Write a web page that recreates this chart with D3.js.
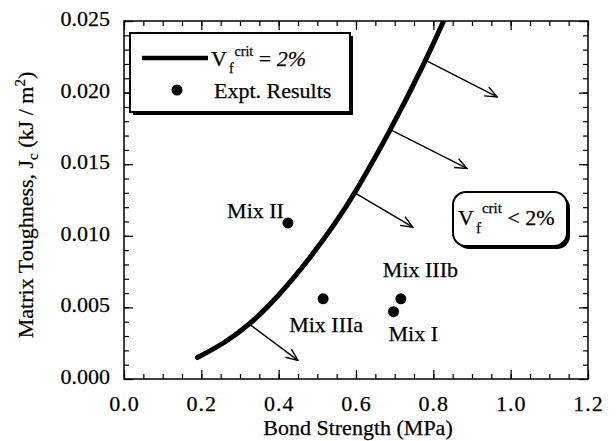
<!DOCTYPE html>
<html>
<head>
<meta charset="utf-8">
<script src="https://cdn.jsdelivr.net/npm/d3@7"></script>
<style>
  html, body { margin: 0; padding: 0; background: #fff; }
  svg { display: block; }
  text { font-family: "Liberation Serif", "Times New Roman", serif; fill: #000; stroke: #000; stroke-width: 0.25; }
</style>
</head>
<body>
<svg id="chart" width="616" height="441"></svg>
<script>
// ---- data ----
const xTicks = [0.0, 0.2, 0.4, 0.6, 0.8, 1.0, 1.2];
const yTicks = [0.000, 0.005, 0.010, 0.015, 0.020, 0.025];
const curveX = [0.19, 0.26, 0.33, 0.40, 0.48, 0.55, 0.60, 0.69, 0.78, 0.83];
const curveY = [0.0015, 0.0025, 0.0039, 0.0058, 0.0084, 0.0110, 0.0131, 0.0174, 0.0222, 0.0252];
const arrowFromX = [0.326, 0.597, 0.690, 0.784];
const arrowFromY = [0.0038, 0.0130, 0.0174, 0.0222];
const arrowToX = [0.450, 0.747, 0.887, 0.965];
const arrowToY = [0.0013, 0.0106, 0.0147, 0.0197];
const mixNames = ["Mix II", "Mix IIIa", "Mix I", "Mix IIIb"];
const mixX = [0.424, 0.515, 0.697, 0.716];
const mixY = [0.0109, 0.0056, 0.0047, 0.0056];

// ---- layout ----
const L = 124, R = 588, T = 21, B = 379;
const FS = 22;
const svg = d3.select("#chart");
svg.append("rect").attr("width", 616).attr("height", 441).attr("fill", "#fff");

const x = d3.scaleLinear().domain([0, 1.2]).range([L, R]);
const y = d3.scaleLinear().domain([0, 0.025]).range([B, T]);

const minorX = d3.range(0, 1.2001, 0.05);
const minorY = d3.range(0, 0.02501, 0.001);

function styleAxis(g) {
  g.select(".domain").remove();
  g.selectAll(".tick line").attr("stroke", "#000").attr("stroke-width", 1.2);
}

// minor ticks
svg.append("g").attr("transform", `translate(0,${B})`)
  .call(d3.axisBottom(x).tickValues(minorX).tickSize(-5).tickFormat(""))
  .call(styleAxis);
svg.append("g").attr("transform", `translate(0,${T})`)
  .call(d3.axisTop(x).tickValues(minorX).tickSize(-5).tickFormat(""))
  .call(styleAxis);
svg.append("g").attr("transform", `translate(${L},0)`)
  .call(d3.axisLeft(y).tickValues(minorY).tickSize(-5).tickFormat(""))
  .call(styleAxis);
svg.append("g").attr("transform", `translate(${R},0)`)
  .call(d3.axisRight(y).tickValues(minorY).tickSize(-5).tickFormat(""))
  .call(styleAxis);

// major ticks
const gx = svg.append("g").attr("transform", `translate(0,${B})`)
  .call(d3.axisBottom(x).tickValues(xTicks).tickSize(-9).tickPadding(16).tickFormat(d3.format(".1f")))
  .call(styleAxis);
gx.selectAll(".tick text").attr("font-size", FS).attr("font-family", "Liberation Serif")
  .attr("fill", "#000").attr("letter-spacing", 1);
svg.append("g").attr("transform", `translate(0,${T})`)
  .call(d3.axisTop(x).tickValues(xTicks).tickSize(-9).tickFormat(""))
  .call(styleAxis);
const gy = svg.append("g").attr("transform", `translate(${L},0)`)
  .call(d3.axisLeft(y).tickValues(yTicks).tickSize(-9).tickPadding(14).tickFormat(d3.format(".3f")))
  .call(styleAxis);
gy.selectAll(".tick text").attr("font-size", FS).attr("font-family", "Liberation Serif")
  .attr("fill", "#000").attr("dy", "0.2em");
svg.append("g").attr("transform", `translate(${R},0)`)
  .call(d3.axisRight(y).tickValues(yTicks).tickSize(-9).tickFormat(""))
  .call(styleAxis);

// frame
svg.append("rect").attr("x", L).attr("y", T).attr("width", R - L).attr("height", B - T)
  .attr("fill", "none").attr("stroke", "#000").attr("stroke-width", 1.5);

// axis titles
svg.append("text").attr("x", x(0.6) + 2).attr("y", 435).attr("text-anchor", "middle")
  .attr("font-size", FS).text("Bond Strength (MPa)");
const yt = svg.append("text").attr("transform", "translate(33,205) rotate(-90)")
  .attr("text-anchor", "middle").attr("font-size", FS);
yt.append("tspan").text("Matrix Toughness, J");
yt.append("tspan").attr("font-size", 15).attr("dy", 5).text("c");
yt.append("tspan").attr("dy", -5).text(" (kJ / m");
yt.append("tspan").attr("font-size", 15).attr("dy", -8).text("2");
yt.append("tspan").attr("dy", 8).text(")");

// clip
svg.append("clipPath").attr("id", "clip").append("rect")
  .attr("x", L).attr("y", T).attr("width", R - L).attr("height", B - T);

// curve
const curvePts = curveX.map((v, i) => [v, curveY[i]]);
svg.append("path").attr("clip-path", "url(#clip)")
  .attr("d", d3.line().x(d => x(d[0])).y(d => y(d[1])).curve(d3.curveBasis)(curvePts))
  .attr("fill", "none").attr("stroke", "#000").attr("stroke-width", 5).attr("stroke-linecap", "round");

// arrows
svg.append("defs").append("marker").attr("id", "ah")
  .attr("viewBox", "0 0 14 14").attr("refX", 13).attr("refY", 7)
  .attr("markerWidth", 14).attr("markerHeight", 14).attr("markerUnits", "userSpaceOnUse")
  .attr("orient", "auto")
  .append("path").attr("d", "M1,2 L13,7 L1,12").attr("fill", "none").attr("stroke", "#000").attr("stroke-width", 1.4);
arrowFromX.forEach((v, i) => {
  svg.append("line")
    .attr("x1", x(v)).attr("y1", y(arrowFromY[i]))
    .attr("x2", x(arrowToX[i])).attr("y2", y(arrowToY[i]))
    .attr("stroke", "#000").attr("stroke-width", 1.4).attr("marker-end", "url(#ah)");
});

// experimental points
const labelOff = [
  { dx: -4, dy: -5, anchor: "end" },
  { dx: 3, dy: 33, anchor: "middle" },
  { dx: -5, dy: 29, anchor: "start" },
  { dx: -18, dy: -22, anchor: "start" }
];
mixNames.forEach((n, i) => {
  const cx = x(mixX[i]), cy = y(mixY[i]);
  svg.append("circle").attr("cx", cx).attr("cy", cy).attr("r", 5.5).attr("fill", "#000");
  svg.append("text").attr("x", cx + labelOff[i].dx).attr("y", cy + labelOff[i].dy)
    .attr("text-anchor", labelOff[i].anchor).attr("font-size", FS).text(n);
});

// legend box
const lg = svg.append("g");
lg.append("rect").attr("x", 133).attr("y", 36).attr("width", 220).attr("height", 79).attr("fill", "#000");
lg.append("rect").attr("x", 130).attr("y", 33).attr("width", 220).attr("height", 79)
  .attr("fill", "#fff").attr("stroke", "#000").attr("stroke-width", 2);
lg.append("line").attr("x1", 142).attr("x2", 208).attr("y1", 58).attr("y2", 58)
  .attr("stroke", "#000").attr("stroke-width", 4.5);
const t1 = lg.append("text").attr("x", 211).attr("y", 66).attr("font-size", FS);
t1.append("tspan").text("V");
t1.append("tspan").attr("font-size", 14).attr("dy", 7).attr("dx", 2).text("f");
t1.append("tspan").attr("font-size", 14).attr("dy", -17).attr("dx", 1).text("crit");
t1.append("tspan").attr("dy", 10).text(" = ");
t1.append("tspan").attr("font-style", "italic").text("2%");
lg.append("circle").attr("cx", 177).attr("cy", 90).attr("r", 5.5).attr("fill", "#000");
lg.append("text").attr("x", 214).attr("y", 98).attr("font-size", FS).text("Expt. Results");

// V_f^crit < 2% box
const rb = svg.append("g");
rb.append("rect").attr("x", 456).attr("y", 195).attr("width", 114).attr("height", 54).attr("rx", 13).attr("fill", "#000");
rb.append("rect").attr("x", 453).attr("y", 192).attr("width", 114).attr("height", 54).attr("rx", 13)
  .attr("fill", "#fff").attr("stroke", "#000").attr("stroke-width", 2);
const t2 = rb.append("text").attr("x", 458).attr("y", 225).attr("font-size", FS);
t2.append("tspan").text("V");
t2.append("tspan").attr("font-size", 15).attr("dy", 8).attr("dx", 2).text("f");
t2.append("tspan").attr("font-size", 15).attr("dy", -20).attr("dx", 1).text("crit");
t2.append("tspan").attr("dy", 12).text(" < 2%");
</script>
</body>
</html>
